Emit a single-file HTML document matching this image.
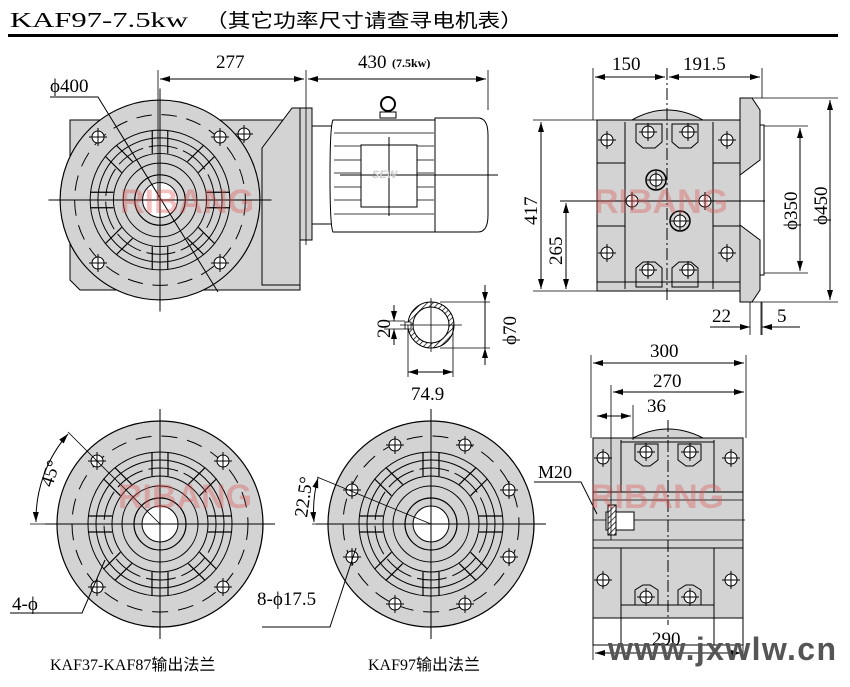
<!DOCTYPE html>
<html><head><meta charset="utf-8"><style>
html,body{margin:0;padding:0;background:#fff;}
svg{display:block;}
text{font-family:"Liberation Serif","Noto Serif CJK SC",serif;fill:#000;}
.cjk{font-family:"Liberation Serif","Noto Sans CJK SC",sans-serif;}
.wm{font-family:"Liberation Sans",sans-serif;font-weight:bold;font-size:34px;fill:#e05050;opacity:0.35;}
.url{font-family:"Liberation Sans",sans-serif;font-weight:bold;font-size:32px;fill:#555;}
.sew{font-family:"Liberation Sans",sans-serif;font-weight:bold;font-style:italic;font-size:11px;fill:#ccc;}
</style></head><body>
<svg width="850" height="687" viewBox="0 0 850 687" xmlns="http://www.w3.org/2000/svg">
<defs>
<marker id="a" viewBox="0 0 10 6" refX="10" refY="3" markerWidth="10" markerHeight="6" orient="auto-start-reverse" markerUnits="userSpaceOnUse"><path d="M0,0L10,3L0,6z" fill="#000"/></marker>
<pattern id="h" width="4" height="4" patternUnits="userSpaceOnUse" patternTransform="rotate(45)"><rect width="4" height="4" fill="#fff"/><line x1="0" y1="0" x2="0" y2="4" stroke="#000" stroke-width="1.4"/></pattern>
<g id="fl">
 <circle r="103" fill="#d3d3d3" stroke="#000" stroke-width="1.2"/>
 <circle r="88" fill="none" stroke="#000" stroke-width="1" stroke-dasharray="16 10"/>
 <circle r="72" fill="none" stroke="#000" stroke-width="1"/>
 <circle r="64" fill="none" stroke="#000" stroke-width="1"/>
 <circle r="56" fill="none" stroke="#000" stroke-width="1" stroke-dasharray="30 6"/>
 <circle r="48" fill="none" stroke="#000" stroke-width="1"/>
 <circle r="38" fill="none" stroke="#000" stroke-width="1"/>
 <g stroke="#000" stroke-width="1.2">
  <path d="M-8,-72V-48M8,-72V-48M-8,72V48M8,72V48M-72,-8H-48M-72,8H-48M72,-8H48M72,8H48"/>
  <g transform="rotate(45)"><path d="M-8,-72V-48M8,-72V-48M-8,72V48M8,72V48M-72,-8H-48M-72,8H-48M72,-8H48M72,8H48"/></g>
 </g>
 <circle r="26" fill="#d3d3d3" stroke="#000" stroke-width="1.2"/>
 <circle r="18" fill="#fff" stroke="#000" stroke-width="1"/>
 <path d="M-115,0H115M0,-115V115" stroke="#000" stroke-width="1"/>
</g>
<g id="bh"><circle r="6" fill="#fff" stroke="#000"/><path d="M-9,0H9M0,-9V9" stroke="#000"/></g>
</defs>

<!-- header -->
<text x="10" y="27" font-size="21" textLength="178" lengthAdjust="spacingAndGlyphs">KAF97-7.5kw</text>
<text x="205" y="27" font-size="19" class="cjk" textLength="318" lengthAdjust="spacingAndGlyphs">（其它功率尺寸请查寻电机表）</text>
<rect x="8" y="34" width="830" height="3" fill="#000"/>

<!-- TOP LEFT VIEW -->
<path d="M70,120H285L300,130V290H80L70,280Z" fill="#d3d3d3" stroke="#000"/>
<path d="M262,148L292,108H312V240H300V285H262Z" fill="#d3d3d3" stroke="#000"/>
<rect x="300" y="108" width="12" height="132" fill="#d3d3d3" stroke="#000"/>
<rect x="312" y="126" width="20" height="98" fill="#fff" stroke="#000"/>
<path d="M333,120H435V232H333Q330,226 330,176Q330,126 333,120Z" fill="#fff" stroke="#000"/>
<path d="M435,118H478Q488,118 488,135V215Q488,232 478,232H435Z" fill="#fff" stroke="#000"/>
<g stroke="#000" stroke-width="0.8"><path d="M334,133H434M334,146H434M334,160H434M334,173H434M334,187H434M334,200H434M334,214H434"/></g>
<rect x="361" y="145" width="56" height="62" fill="#fff" stroke="#000"/>
<path d="M389,137V216M340,175H498" stroke="#000"/>
<circle cx="388" cy="104" r="7" fill="none" stroke="#000" stroke-width="2"/>
<rect x="380" y="112" width="16" height="6" fill="#fff" stroke="#000"/>
<text x="372" y="178" class="sew">SEW</text>
<g transform="translate(160,200) scale(0.97)"><use href="#fl"/></g>
<use href="#bh" x="98" y="137"/><use href="#bh" x="220" y="137"/><use href="#bh" x="98" y="263"/><use href="#bh" x="220" y="263"/><use href="#bh" x="244" y="134"/>
<path d="M50,97H98L218,292" fill="none" stroke="#000"/>
<text x="50" y="92" font-size="19">ϕ400</text>
<path d="M158,70V200M306,70V245M488,70V110" stroke="#000" stroke-width="0.8"/>
<path d="M160,79H304" stroke="#000" marker-start="url(#a)" marker-end="url(#a)"/>
<path d="M308,79H486" stroke="#000" marker-start="url(#a)" marker-end="url(#a)"/>
<text x="216" y="68" font-size="19">277</text>
<text x="358" y="68" font-size="19">430</text><text x="392" y="67" font-size="12" font-weight="bold" class="cjk">(7.5kw)</text>

<!-- TOP RIGHT VIEW -->
<path d="M632,120Q667,100 703,120Z" fill="#d3d3d3" stroke="#000"/>
<rect x="597" y="120" width="143" height="171" fill="#d3d3d3" stroke="#000"/>
<path d="M625,122V289M713,122V289M597,163H625M713,163H740M597,226H625M713,226H740M597,282H740" stroke="#000" stroke-width="1"/>
<path d="M636,124H662V142L655,148H643L636,142ZM672,124H698V142L691,148H679L672,142Z" fill="none" stroke="#000"/>
<path d="M636,287H662V268L655,262H643L636,268ZM672,287H698V268L691,262H679L672,268Z" fill="none" stroke="#000"/>
<path d="M740,98H752L760,110V160L740,175ZM740,302H752L760,290V240L740,225Z" fill="#d3d3d3" stroke="#000"/>
<path d="M760,125H764V275H760" fill="none" stroke="#000"/>
<use href="#bh" x="607" y="140"/><use href="#bh" x="727" y="140"/><use href="#bh" x="607" y="253"/><use href="#bh" x="727" y="253"/>
<use href="#bh" x="648" y="132"/><use href="#bh" x="688" y="132"/><use href="#bh" x="648" y="270"/><use href="#bh" x="688" y="270"/>
<use href="#bh" x="632" y="201"/><use href="#bh" x="705" y="201"/>
<circle cx="656" cy="180" r="10" fill="#d3d3d3" stroke="#000" stroke-width="1.5"/><use href="#bh" x="656" y="180"/>
<circle cx="680" cy="221" r="10" fill="#d3d3d3" stroke="#000" stroke-width="1.5"/><use href="#bh" x="680" y="221"/>
<path d="M667,68V300" stroke="#000" stroke-dasharray="12 3 2 3"/>
<path d="M560,201H765" stroke="#000"/>
<path d="M593,68V120M762,68V98" stroke="#000" stroke-width="0.8"/>
<path d="M595,77H665" stroke="#000" marker-start="url(#a)" marker-end="url(#a)"/>
<path d="M669,77H760" stroke="#000" marker-start="url(#a)" marker-end="url(#a)"/>
<text x="612" y="70" font-size="19">150</text><text x="683" y="70" font-size="19">191.5</text>
<path d="M533,120H597M533,291H597" stroke="#000" stroke-width="0.8"/>
<path d="M541,122V289" stroke="#000" marker-start="url(#a)" marker-end="url(#a)"/>
<path d="M566,203V289" stroke="#000" marker-start="url(#a)" marker-end="url(#a)"/>
<text transform="translate(537,225) rotate(-90)" font-size="19">417</text>
<text transform="translate(562,265) rotate(-90)" font-size="19">265</text>
<path d="M764,126H808M764,273H808M752,98H838M752,302H838" stroke="#000" stroke-width="0.8"/>
<path d="M800,128V271" stroke="#000" marker-start="url(#a)" marker-end="url(#a)"/>
<path d="M830,100V300" stroke="#000" marker-start="url(#a)" marker-end="url(#a)"/>
<text transform="translate(797,230) rotate(-90)" font-size="19">ϕ350</text>
<text transform="translate(827,225) rotate(-90)" font-size="19">ϕ450</text>
<path d="M750,302V335M761,302V335M762,302V335" stroke="#000" stroke-width="0.8"/>
<path d="M710,327H748M775,327H800" stroke="#000"/>
<path d="M735,327H750" stroke="#000" marker-end="url(#a)"/><path d="M775,327H762" stroke="#000" marker-end="url(#a)"/>
<text x="712" y="322" font-size="19">22</text><text x="777" y="322" font-size="19">5</text>

<!-- SHAFT SECTION -->
<circle cx="431" cy="325" r="23" fill="url(#h)" stroke="#000"/>
<circle cx="431" cy="325" r="18" fill="#fff" stroke="#000"/>
<rect x="405" y="322" width="6" height="7" fill="#fff" stroke="#000" stroke-width="0.8"/>
<path d="M400,325H462M431,298V352M408,325V377M453,325V377" stroke="#000" stroke-width="0.8"/>
<path d="M440,302H490M440,348H490M384,321H405M384,329H405" stroke="#000" stroke-width="0.8"/>
<path d="M485,285V302" stroke="#000" marker-end="url(#a)"/><path d="M485,365V348" stroke="#000" marker-end="url(#a)"/>
<path d="M485,302V348" stroke="#000"/>
<path d="M394,305V321" stroke="#000" marker-end="url(#a)"/><path d="M394,345V329" stroke="#000" marker-end="url(#a)"/>
<path d="M408,372H453" stroke="#000" marker-start="url(#a)" marker-end="url(#a)"/>
<text transform="translate(390,338) rotate(-90)" font-size="19">20</text>
<text transform="translate(516,345) rotate(-90)" font-size="19">ϕ70</text>
<text x="411" y="400" font-size="19">74.9</text>

<!-- BOTTOM LEFT FLANGE -->
<use href="#fl" x="160" y="524"/>
<use href="#bh" x="97" y="461"/><use href="#bh" x="223" y="461"/><use href="#bh" x="97" y="587"/><use href="#bh" x="223" y="587"/>
<path d="M30,524H160M160,524L68,432" stroke="#000" stroke-width="0.8"/>
<path d="M68,434A130,130 0 0 0 36,522" fill="none" stroke="#000" marker-start="url(#a)" marker-end="url(#a)"/>
<text transform="translate(52,488) rotate(-72)" font-size="19">45°</text>
<path d="M10,613H82L105,560" fill="none" stroke="#000"/>
<text x="12" y="610" font-size="19">4-ϕ</text>
<text x="50" y="670" font-size="16" class="cjk">KAF37-KAF87输出法兰</text>

<!-- BOTTOM MIDDLE FLANGE -->
<use href="#fl" x="431" y="524"/>
<use href="#bh" x="395" y="445"/><use href="#bh" x="465" y="445"/><use href="#bh" x="352" y="490"/><use href="#bh" x="509" y="490"/>
<use href="#bh" x="352" y="557"/><use href="#bh" x="509" y="557"/><use href="#bh" x="395" y="604"/><use href="#bh" x="465" y="604"/>
<path d="M312,524H431L317,477" fill="none" stroke="#000" stroke-width="0.8"/>
<path d="M318,478A125,125 0 0 0 314,522" fill="none" stroke="#000" marker-start="url(#a)" marker-end="url(#a)"/>
<text transform="translate(307,518) rotate(-82)" font-size="19">22.5°</text>
<path d="M262,627H330L356,548" fill="none" stroke="#000"/>
<text x="257" y="605" font-size="19">8-ϕ17.5</text>
<text x="368" y="670" font-size="16" class="cjk">KAF97输出法兰</text>

<!-- BOTTOM RIGHT VIEW -->
<path d="M633,438Q668,420 703,438Z" fill="#d3d3d3" stroke="#000"/>
<rect x="593" y="438" width="150" height="180" fill="#d3d3d3" stroke="#000"/>
<rect x="593" y="618" width="150" height="27" fill="#fff" stroke="#000"/>
<path d="M621,440V645M714,440V645M621,442H714M621,605H714" stroke="#000"/>
<path d="M635,444H658V460L650,466H643L635,460ZM678,444H701V460L693,466H686L678,460Z" fill="none" stroke="#000"/>
<path d="M635,605V590L643,585H650L658,590V605ZM678,605V590L686,585H693L701,590V605Z" fill="none" stroke="#000"/>
<rect x="593" y="492" width="150" height="56" fill="#d3d3d3" stroke="#000"/>
<path d="M593,500H743M593,540H743M593,520H745" stroke="#000" stroke-width="0.8"/>
<rect x="606" y="512" width="28" height="18" fill="#fff" stroke="#000"/>
<rect x="608" y="505" width="8" height="30" fill="url(#h)" stroke="#000"/>
<use href="#bh" x="603" y="458"/><use href="#bh" x="731" y="458"/><use href="#bh" x="603" y="580"/><use href="#bh" x="731" y="580"/>
<use href="#bh" x="646" y="452"/><use href="#bh" x="690" y="452"/><use href="#bh" x="646" y="597"/><use href="#bh" x="690" y="597"/>
<path d="M668,420V625" stroke="#000" stroke-dasharray="12 3 2 3"/>
<path d="M591,355V438M746,355V438M611,385V540M633,405V440M743,620V660M593,620V660" stroke="#000" stroke-width="0.8"/>
<path d="M593,363H744" stroke="#000" marker-start="url(#a)" marker-end="url(#a)"/>
<path d="M613,392H744" stroke="#000" marker-start="url(#a)" marker-end="url(#a)"/>
<path d="M597,416H631" stroke="#000" marker-start="url(#a)" marker-end="url(#a)"/>
<path d="M595,653H741" stroke="#000" marker-start="url(#a)" marker-end="url(#a)"/>
<text x="650" y="357" font-size="19">300</text><text x="653" y="387" font-size="19">270</text><text x="647" y="412" font-size="19">36</text>
<text x="652" y="645" font-size="19">290</text>
<path d="M534,482H581L597,514" fill="none" stroke="#000"/>
<text x="538" y="478" font-size="18">M20</text>

<!-- watermarks -->
<text x="120" y="213" class="wm">RIBANG</text>
<text x="594" y="213" class="wm">RIBANG</text>
<text x="118" y="508" class="wm">RIBANG</text>
<text x="590" y="508" class="wm">RIBANG</text>
<text x="608" y="660" class="url" textLength="228" lengthAdjust="spacing">www.jxwlw.cn</text>
</svg>
</body></html>
